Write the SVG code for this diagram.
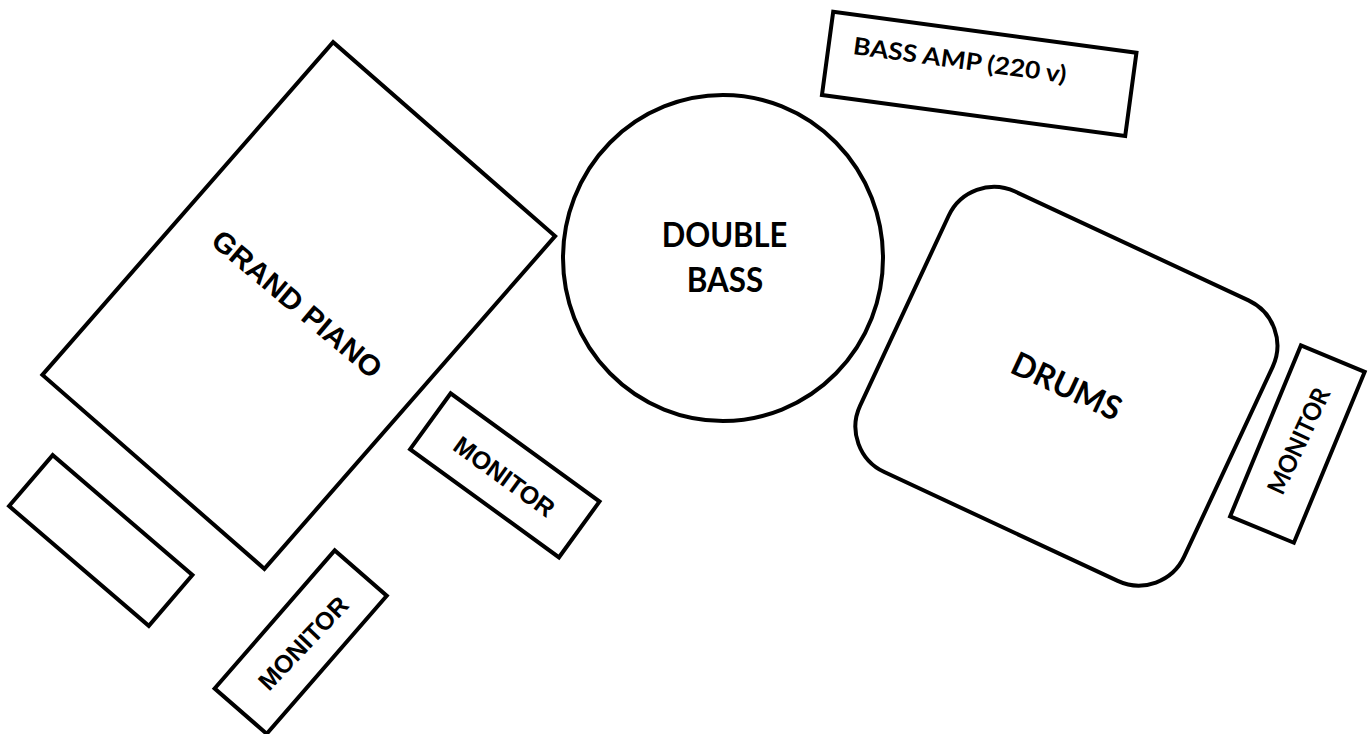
<svg xmlns="http://www.w3.org/2000/svg" width="1368" height="734" viewBox="0 0 1368 734">
<style>
.s{fill:#fff;stroke:#000;stroke-width:4;stroke-linejoin:miter}
.a{font-family:"Liberation Sans",Arial,sans-serif;font-weight:bold;fill:#000;text-anchor:middle;dominant-baseline:central}
.c{font-family:Lato,"Open Sans",sans-serif;font-weight:bold;fill:#000;text-anchor:middle}
</style>
<rect width="1368" height="734" fill="#fff"/>
<g id="grand-piano">
<rect class="s" transform="translate(298.75,305.5) rotate(41.15)" x="-147.4" y="-220.9" width="294.8" height="441.8"/>
<text class="a" transform="translate(297,304) rotate(40)" x="0" y="0" font-size="29" textLength="212" lengthAdjust="spacingAndGlyphs">GRAND PIANO</text>
</g>
<g id="blank-box">
<rect class="s" transform="translate(100.75,540.5) rotate(40.6)" x="-92" y="-33.5" width="184" height="67"/>
</g>
<g id="monitor-piano">
<rect class="s" transform="translate(300.7,642.1) rotate(-49)" x="-91.5" y="-34.5" width="183" height="69"/>
<text class="a" transform="translate(303,643) rotate(-46.5)" x="0" y="0" font-size="25" textLength="118" lengthAdjust="spacingAndGlyphs">MONITOR</text>
</g>
<g id="monitor-center">
<rect class="s" transform="translate(504.8,475.35) rotate(36)" x="-92" y="-34.5" width="184" height="69"/>
<text class="a" transform="translate(504.5,476.5) rotate(36)" x="0" y="0" font-size="25" textLength="118" lengthAdjust="spacingAndGlyphs">MONITOR</text>
</g>
<g id="double-bass">
<ellipse class="s" cx="723" cy="258" rx="160" ry="163"/>
<text class="c" x="724.5" y="247" font-size="34" textLength="125.6" lengthAdjust="spacingAndGlyphs">DOUBLE</text>
<text class="c" x="725" y="292" font-size="34" textLength="76.6" lengthAdjust="spacingAndGlyphs">BASS</text>
</g>
<g id="bass-amp">
<g transform="translate(979.2,73.8) rotate(7.7)">
<rect class="s" x="-153" y="-42" width="306" height="84"/>
<text class="c" style="text-anchor:start" x="-128.5" y="-2.5" font-size="24" textLength="215" lengthAdjust="spacingAndGlyphs">BASS AMP (220 v)</text>
</g>
</g>
<g id="drums">
<rect class="s" transform="translate(1066.4,386.2) rotate(25)" x="-178.75" y="-154.75" width="357.5" height="309.5" rx="50" ry="50"/>
<text class="c" transform="translate(1066.7,385.8) rotate(25)" x="0" y="12" font-size="33" textLength="117" lengthAdjust="spacingAndGlyphs">DRUMS</text>
</g>
<g id="monitor-drums">
<rect class="s" transform="translate(1297.4,444.1) rotate(-67.5)" x="-92.5" y="-34.5" width="185" height="69"/>
<text class="c" transform="translate(1299,441) rotate(-65)" x="0" y="8.5" font-size="25" textLength="114" lengthAdjust="spacingAndGlyphs">MONITOR</text>
</g>
<g id="connectors"/>
</svg>
